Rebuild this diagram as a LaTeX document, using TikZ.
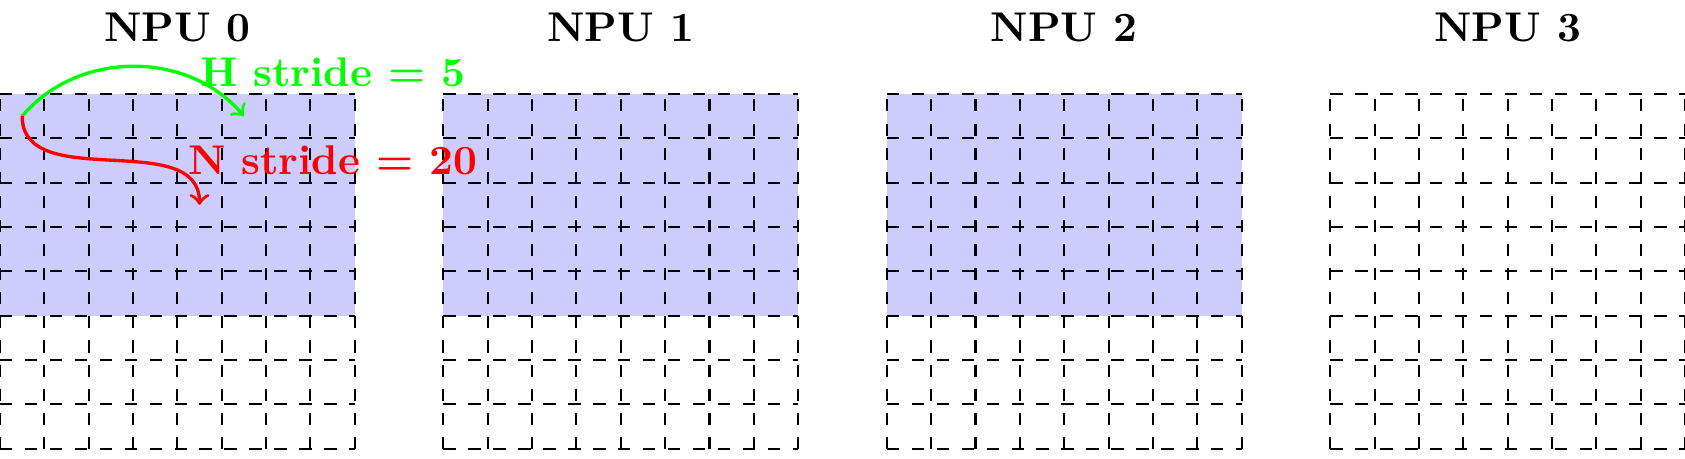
\documentclass[tikz,border=0pt]{standalone}
\begin{document}
\begin{tikzpicture}[x=0.375cm,y=0.375cm,
  npulabel/.style={font=\bfseries},
  shaded/.style={fill=blue!20},
  hgrid/.style={line width=0.5pt, dash pattern=on 3pt off 3pt},
  vgrid/.style={line width=0.5pt, dash pattern=on 2.9pt off 2.9pt, dash phase=4.5pt},
  harrow/.style={green, thick, ->},
  narrow/.style={red, thick, ->},
  hlab/.style={text=green, font=\bfseries},
  nlab/.style={text=red, font=\bfseries}]
\useasboundingbox (0,-8.21) rectangle (38,2.12);
\clip (0,-8.21) rectangle (38,2.12);
\foreach \i in {0,1,2} \fill[shaded] (10*\i,0) rectangle (10*\i+8,-5);
\foreach \i in {0,...,3} {
  \foreach \r in {0,...,9} \draw[hgrid] (10*\i,-\r) -- (10*\i+8,-\r);
  \foreach \c in {0,...,8} \draw[vgrid] (10*\i+\c,0) -- (10*\i+\c,-9);
  \node[npulabel] (npu\i) at (10*\i+4,1.5) {NPU \i};
}
\coordinate (c0) at (0.5,-0.5);
\coordinate (c5) at (5.5,-0.5);
\coordinate (c20) at (4.5,-2.5);
\draw[harrow] (c0) to[bend left=50] (c5);
\draw[narrow] (c0) to[out=-90,in=90] (c20);
\node[hlab] (hs) at (7.5,0.5) {H stride = 5};
\node[nlab] (ns) at (7.5,-1.5) {N stride = 20};
\end{tikzpicture}
\end{document}
